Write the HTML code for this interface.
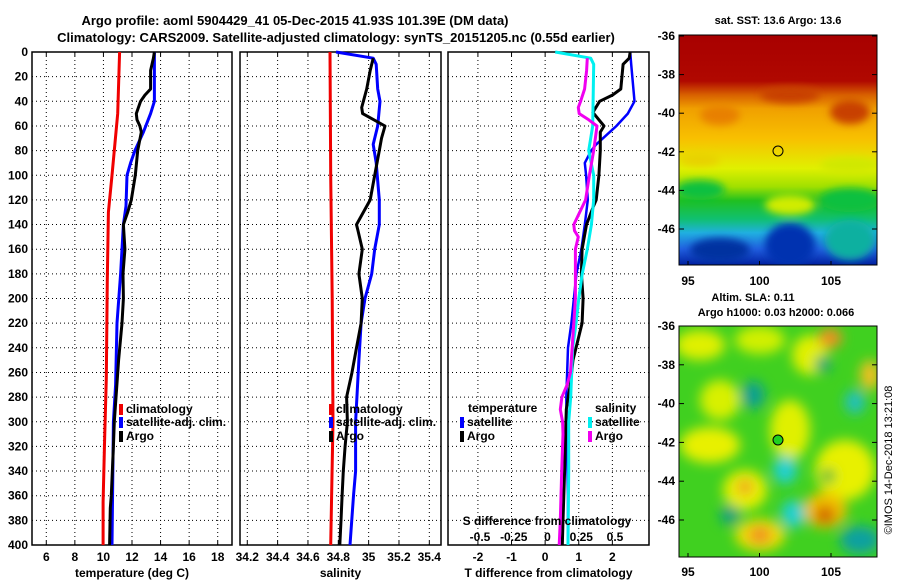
<!DOCTYPE html>
<html><head><meta charset="utf-8">
<style>
html,body{margin:0;padding:0;background:#fff;}
svg{display:block;font-family:"Liberation Sans",sans-serif;font-weight:bold;}
</style></head>
<body>
<svg id="chart" width="900" height="580" viewBox="0 0 900 580">
<defs>
<linearGradient id="sstGrad" x1="0" y1="0" x2="0" y2="1">
<stop offset="0" stop-color="#a80000"/>
<stop offset="0.2" stop-color="#b00800"/>
<stop offset="0.26" stop-color="#d86000"/>
<stop offset="0.32" stop-color="#f0a000"/>
<stop offset="0.45" stop-color="#f8c000"/>
<stop offset="0.58" stop-color="#e0f000"/>
<stop offset="0.66" stop-color="#a0e000"/>
<stop offset="0.72" stop-color="#20c020"/>
<stop offset="0.8" stop-color="#10c070"/>
<stop offset="0.86" stop-color="#20b0e0"/>
<stop offset="0.93" stop-color="#2060e0"/>
<stop offset="1" stop-color="#0020a0"/>
</linearGradient>
<filter id="blur6"><feGaussianBlur stdDeviation="6"/></filter>
<filter id="blur4"><feGaussianBlur stdDeviation="4"/></filter>
<clipPath id="clipSst"><rect x="679" y="35" width="198" height="230"/></clipPath>
<clipPath id="clipSla"><rect x="679" y="326" width="198" height="231"/></clipPath>
</defs>
<g id="titles">
<text x="295" y="25" font-size="13" text-anchor="middle">Argo profile: aoml 5904429_41 05-Dec-2015 41.93S 101.39E (DM data)</text>
<text x="336" y="42" font-size="13" text-anchor="middle">Climatology: CARS2009. Satellite-adjusted climatology: synTS_20151205.nc (0.55d earlier)</text>
</g>
<g id="panels"></g>
<g id="maps">
<g clip-path="url(#clipSst)">
<rect x="679" y="35" width="198" height="230" fill="url(#sstGrad)"/>
<g filter="url(#blur4)">
<ellipse cx="790" cy="95" rx="30" ry="8" fill="#c84000"/>
<ellipse cx="850" cy="112" rx="20" ry="12" fill="#c84000"/>
<ellipse cx="720" cy="115" rx="20" ry="10" fill="#e88000"/>
<ellipse cx="700" cy="160" rx="20" ry="6" fill="#e8d000"/>
<ellipse cx="850" cy="165" rx="30" ry="8" fill="#d0e800"/>
<ellipse cx="850" cy="200" rx="30" ry="12" fill="#10c040"/>
<ellipse cx="700" cy="190" rx="25" ry="10" fill="#10c040"/>
<ellipse cx="790" cy="205" rx="25" ry="10" fill="#d0ec00"/>
<ellipse cx="790" cy="245" rx="25" ry="22" fill="#0030b0"/>
<ellipse cx="720" cy="250" rx="30" ry="12" fill="#0030a0"/>
<ellipse cx="850" cy="240" rx="25" ry="20" fill="#10b0a0"/>
</g>
<circle cx="778" cy="151" r="5" fill="none" stroke="#000" stroke-width="1"/>
</g>
<rect x="679" y="35" width="198" height="230" fill="none" stroke="#000"/>
<text x="778" y="24" font-size="11" text-anchor="middle">sat. SST: 13.6 Argo: 13.6</text>
<g clip-path="url(#clipSla)">
<rect x="679" y="326" width="198" height="231" fill="#40d020"/>
<g filter="url(#blur6)">
<ellipse cx="700" cy="345" rx="25" ry="15" fill="#e0f000"/>
<ellipse cx="760" cy="340" rx="25" ry="14" fill="#d0f000"/>
<ellipse cx="810" cy="355" rx="18" ry="20" fill="#e0f000"/>
<ellipse cx="830" cy="338" rx="12" ry="10" fill="#f09020"/>
<ellipse cx="720" cy="400" rx="20" ry="20" fill="#d8f000"/>
<ellipse cx="710" cy="445" rx="30" ry="18" fill="#e8f000"/>
<ellipse cx="790" cy="430" rx="20" ry="30" fill="#e0f000"/>
<ellipse cx="845" cy="470" rx="30" ry="30" fill="#e8f000"/>
<ellipse cx="745" cy="490" rx="22" ry="20" fill="#e8f000"/>
<ellipse cx="745" cy="487" rx="8" ry="8" fill="#f0a020"/>
<ellipse cx="760" cy="535" rx="25" ry="16" fill="#f0e000"/>
<ellipse cx="760" cy="535" rx="12" ry="9" fill="#f09020"/>
<ellipse cx="825" cy="510" rx="22" ry="18" fill="#f0c000"/>
<ellipse cx="825" cy="515" rx="10" ry="9" fill="#d06000"/>
<ellipse cx="870" cy="375" rx="10" ry="15" fill="#f0c020"/>
<ellipse cx="753" cy="395" rx="12" ry="14" fill="#10a090"/>
<ellipse cx="785" cy="470" rx="12" ry="14" fill="#20d0d0"/>
<ellipse cx="793" cy="514" rx="12" ry="14" fill="#20d0d0"/>
<ellipse cx="855" cy="402" rx="10" ry="12" fill="#20c0c0"/>
<ellipse cx="823" cy="364" rx="8" ry="8" fill="#10a080"/>
<ellipse cx="730" cy="515" rx="10" ry="10" fill="#10a080"/>
<ellipse cx="860" cy="540" rx="20" ry="14" fill="#10a0a0"/>
<ellipse cx="828" cy="476" rx="7" ry="7" fill="#10b040"/>
</g>
<circle cx="778" cy="440" r="5" fill="#20d020" stroke="#000" stroke-width="1"/>
</g>
<rect x="679" y="326" width="198" height="231" fill="none" stroke="#000"/>
<text x="753" y="301" font-size="11" text-anchor="middle">Altim. SLA: 0.11</text>
<text x="776" y="316" font-size="11" text-anchor="middle">Argo h1000: 0.03 h2000: 0.066</text>
<text transform="translate(892,460) rotate(-90)" font-size="11" font-weight="normal" text-anchor="middle">©IMOS 14-Dec-2018 13:21:08</text>
</g>
<g id="mapaxes"></g>
</svg>
<script>
// ---- data ----
const depthTicks = [0,20,40,60,80,100,120,140,160,180,200,220,240,260,280,300,320,340,360,380,400];
const tempTicks = [6,8,10,12,14,16,18];
const salTicks = [34.2,34.4,34.6,34.8,35,35.2,35.4];
const tdiffTicks = [-2,-1,0,1,2];
const sdiffTicks = [-0.5,-0.25,0,0.25,0.5];
const latTicks = [-36,-38,-40,-42,-44,-46];
const lonTicks = [95,100,105];

const climTDepth = [0,50,100,130,185,265,315,365,400];
const climTVal   = [11.13,11.0,10.6,10.35,10.27,10.2,10.08,9.98,9.98];
const satTDepth = [0,40,50,65,80,90,100,125,140,180,220,270,300,400];
const satTVal   = [13.57,13.57,13.3,12.8,12.2,11.9,11.65,11.58,11.4,11.2,10.95,10.85,10.7,10.6];
const argoTDepth = [0,5,10,15,30,35,40,50,55,60,65,80,100,120,130,140,160,180,200,220,250,300,320,360,370,400];
const argoTVal   = [13.57,13.5,13.4,13.3,13.3,12.9,12.6,12.3,12.35,12.55,12.65,12.4,12.23,11.95,11.7,11.4,11.5,11.37,11.4,11.3,11.06,10.76,10.7,10.55,10.48,10.43];

const climSDepth = [0,100,200,300,400];
const climSVal   = [34.745,34.75,34.76,34.765,34.75];
const satSDepth = [0,5,10,30,40,60,75,90,120,140,160,180,200,220,250,300,340,360,400];
const satSVal   = [34.785,35.03,35.05,35.06,35.075,35.06,35.03,35.05,35.07,35.07,35.04,35.02,34.976,34.95,34.936,34.914,34.914,34.9,34.877];
const argoSDepth = [5,15,30,45,50,60,70,80,100,120,140,145,160,180,200,220,240,260,280,300,320,340,360,380,400];
const argoSVal   = [35.03,35.01,34.987,34.954,34.96,35.108,35.085,35.07,35.04,35.01,34.92,34.93,34.958,34.936,34.958,34.95,34.92,34.89,34.855,34.86,34.845,34.833,34.825,34.818,34.81];

const satTdDepth = [0,10,40,50,60,75,80,90,100,120,140,160,180,220,240,280,320,360,400];
const satTdVal   = [2.53,2.56,2.66,2.46,2.12,1.52,1.37,1.18,1.22,1.27,1.18,1.08,0.93,0.78,0.68,0.63,0.65,0.68,0.68];
const argoTdDepth = [0,5,10,30,35,40,49,60,65,80,100,120,125,140,160,180,200,220,250,270,290,310,340,380,400];
const argoTdVal   = [2.53,2.5,2.32,2.25,2.0,1.62,1.42,1.75,1.64,1.64,1.6,1.52,1.44,1.23,1.1,1.08,1.13,1.1,0.83,0.75,0.63,0.61,0.58,0.53,0.51];
const satSdDepth = [0,5,10,60,80,100,120,140,160,180,200,220,240,280,300,340,400];
const satSdVal   = [0.057,0.32,0.342,0.335,0.305,0.342,0.342,0.325,0.295,0.257,0.232,0.212,0.187,0.172,0.157,0.157,0.152];
const argoSdDepth = [5,15,30,40,45,50,55,60,80,100,120,140,145,150,160,200,220,260,270,280,290,300,310,340,380,400];
const argoSdVal   = [0.295,0.29,0.275,0.245,0.228,0.235,0.305,0.367,0.342,0.31,0.282,0.195,0.2,0.228,0.207,0.207,0.195,0.17,0.145,0.107,0.095,0.112,0.115,0.105,0.095,0.087];

// ---- geometry ----
const NS = "http://www.w3.org/2000/svg";
const top0 = 52, bot0 = 545;
function yD(d){ return top0 + d*(bot0-top0)/400; }
function lin(d0,d1,r0,r1){ return v => r0 + (v-d0)*(r1-r0)/(d1-d0); }
const xT = lin(5,19,32,232);
const xS = lin(34.152,35.477,240,441);
const xTd = lin(-2.89,3.09,448,649);
const xSd = lin(-0.5,0.5,480,615);

const root = document.getElementById('panels');
function mk(tag, attrs, parent){
  const e = document.createElementNS(NS, tag);
  for (const k in attrs) e.setAttribute(k, attrs[k]);
  (parent||root).appendChild(e);
  return e;
}
function txt(s, x, y, size, anchor, parent){
  const t = mk('text', {x:x, y:y, 'font-size':size, 'text-anchor':anchor||'middle'}, parent);
  t.textContent = s;
  return t;
}
function line(depths, vals, xf, color, w, name, parent){
  let d = '';
  for (let i=0;i<depths.length;i++){ d += (i?'L':'M') + xf(vals[i]).toFixed(1) + ',' + yD(depths[i]).toFixed(1); }
  const p = mk('path', {d:d, fill:'none', stroke:color, 'stroke-width':w, 'stroke-linejoin':'round'}, parent);
  
  
  return p;
}
function panel(name, x0, x1, ticks, xf, label, showDepth){
  const g = mk('g', {});
  
  
  for (const d of depthTicks){
    if (d===0||d===400) continue;
    mk('line', {x1:x0, x2:x1, y1:yD(d), y2:yD(d), stroke:'#000', 'stroke-width':1, 'stroke-dasharray':'1,3'}, g);
  }
  for (const t of ticks){
    const x = xf(t);
    mk('line', {x1:x, x2:x, y1:top0, y2:bot0, stroke:'#000', 'stroke-width':1, 'stroke-dasharray':'1,3'}, g);
    mk('line', {x1:x, x2:x, y1:bot0, y2:bot0-4, stroke:'#000'}, g);
    mk('line', {x1:x, x2:x, y1:top0, y2:top0+4, stroke:'#000'}, g);
    const lbl = txt(String(t), x, 561, 12, 'middle', g);
    
    
  }
  if (showDepth){
    for (const d of depthTicks){
      const lbl = txt(String(d), 28, yD(d)+4, 12, 'end', g);
      
      
    }
  }
  const ax = txt(label, (x0+x1)/2, 577, 12, 'middle', g);
  
  
  const fr = mk('rect', {x:x0, y:top0, width:x1-x0, height:bot0-top0, fill:'none', stroke:'#000', 'stroke-width':1.5}, g);
  
  
  return g;
}
function legendEntry(g, x, y, color, label){
  const b = mk('rect', {x:x, y:y-9, width:4, height:11, fill:color}, g);
  
  
  const t = txt(label, x+7, y, 12, 'start', g);
  
  
}

// Panel 1: temperature
const g1 = panel('temperature-panel', 32, 232, tempTicks, xT, 'temperature (deg C)', true);
line(climTDepth, climTVal, xT, '#f00000', 3, 'climatology-temperature-line', g1);
line(satTDepth, satTVal, xT, '#0000ff', 3, 'satellite-temperature-line', g1);
line(argoTDepth, argoTVal, xT, '#000', 3, 'argo-temperature-line', g1);
legendEntry(g1, 119, 413, '#f00000', 'climatology');
legendEntry(g1, 119, 426, '#0000ff', 'satellite-adj. clim.');
legendEntry(g1, 119, 440, '#000', 'Argo');

// Panel 2: salinity
const g2 = panel('salinity-panel', 240, 441, salTicks, xS, 'salinity', false);
line(climSDepth, climSVal, xS, '#f00000', 3, 'climatology-salinity-line', g2);
line(satSDepth, satSVal, xS, '#0000ff', 3, 'satellite-salinity-line', g2);
line(argoSDepth, argoSVal, xS, '#000', 3, 'argo-salinity-line', g2);
legendEntry(g2, 329, 413, '#f00000', 'climatology');
legendEntry(g2, 329, 426, '#0000ff', 'satellite-adj. clim.');
legendEntry(g2, 329, 440, '#000', 'Argo');

// Panel 3: differences
const g3 = panel('difference-panel', 448, 649, tdiffTicks, xTd, 'T difference from climatology', false);
line(satTdDepth, satTdVal, xTd, '#0000ff', 2.5, 'satellite-temperature-diff-line', g3);
line(argoTdDepth, argoTdVal, xTd, '#000', 3, 'argo-temperature-diff-line', g3);
line(satSdDepth, satSdVal, xSd, '#00f0f0', 3, 'satellite-salinity-diff-line', g3);
line(argoSdDepth, argoSdVal, xSd, '#f000f0', 3, 'argo-salinity-diff-line', g3);
const lt1 = txt('temperature', 468, 412, 12, 'start', g3);


const lt2 = txt('salinity', 595, 412, 12, 'start', g3);


legendEntry(g3, 460, 426, '#0000ff', 'satellite');
legendEntry(g3, 460, 440, '#000', 'Argo');
legendEntry(g3, 588, 426, '#00f0f0', 'satellite');
legendEntry(g3, 588, 440, '#f000f0', 'Argo');
const st = txt('S difference from climatology', 547, 525, 12, 'middle', g3);


for (const s of sdiffTicks){
  const t = txt(String(s), xSd(s), 541, 12, 'middle', g3);
  
  
}

// Map axes
const ma = document.getElementById('mapaxes');
const latY1 = lin(-36,-46,36,229);
const latY2 = lin(-36,-46,326,520);
const lonX = lin(95,105,688,831);
for (const la of latTicks){
  for (const yf of [latY1, latY2]){
    const y = yf(la);
    mk('line', {x1:679, x2:684, y1:y, y2:y, stroke:'#000'}, ma);
    mk('line', {x1:872, x2:877, y1:y, y2:y, stroke:'#000'}, ma);
    const t = txt(String(la), 675, y+4, 12, 'end', ma);
    
    
  }
}
for (const lo of lonTicks){
  const x = lonX(lo);
  mk('line', {x1:x, x2:x, y1:265, y2:261, stroke:'#000'}, ma);
  mk('line', {x1:x, x2:x, y1:557, y2:553, stroke:'#000'}, ma);
  const t1 = txt(String(lo), x, 285, 12, 'middle', ma);
  
  
  const t2 = txt(String(lo), x, 576, 12, 'middle', ma);
  
  
}
</script>
</body></html>
